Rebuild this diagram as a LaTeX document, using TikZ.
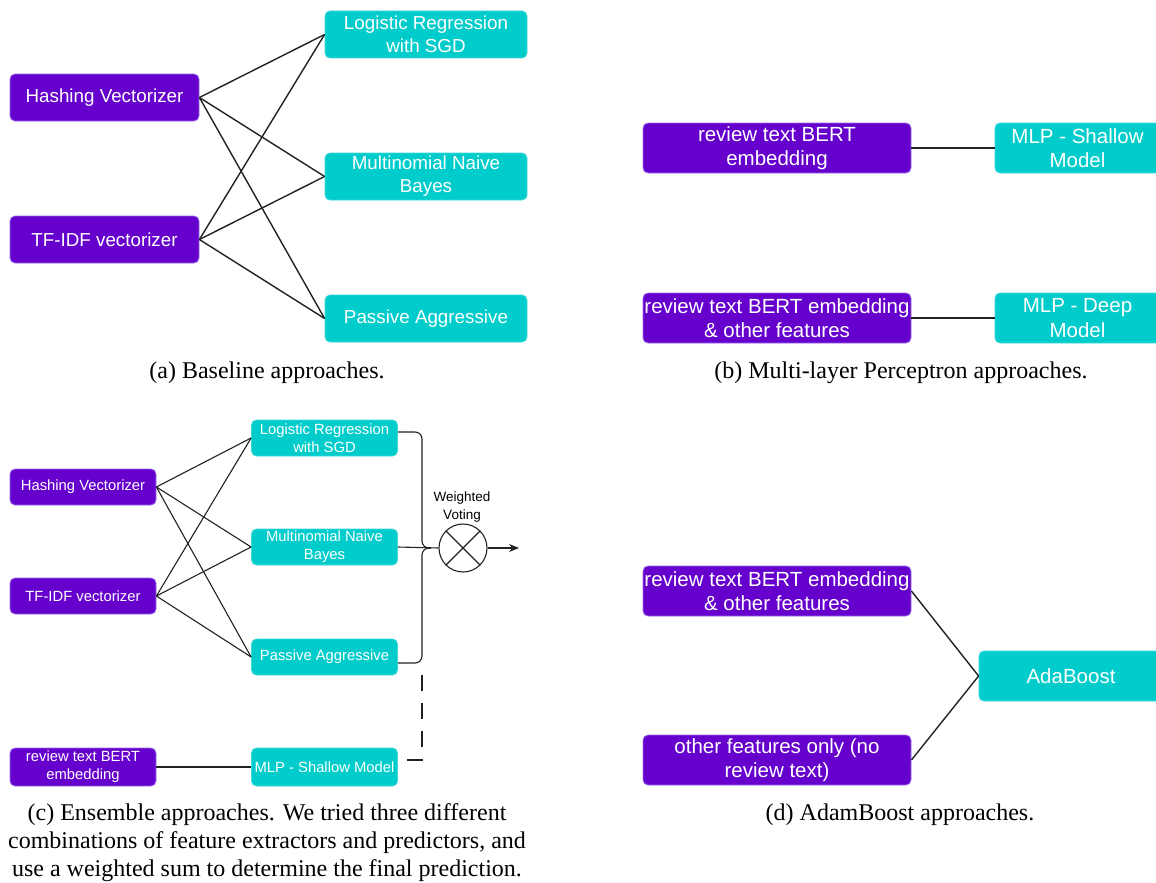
\documentclass[tikz,border=0pt]{standalone}
\usepackage{fontspec}
\setmainfont{Liberation Serif}
\newfontfamily\boxfont{Liberation Sans}
\usetikzlibrary{arrows.meta}
\definecolor{purp}{HTML}{6600CC}
\definecolor{purpedge}{HTML}{9A6AEE}
\definecolor{cyanfill}{HTML}{00CCCC}
\definecolor{cyanedge}{HTML}{3DD8D8}
\definecolor{lin}{HTML}{222222}
\begin{document}
\begin{tikzpicture}[x=1pt,y=-1pt,
  box/.style={rectangle, rounded corners=5pt, line width=0.8pt, text=white, align=center, inner sep=0pt, anchor=center},
  pbox/.style={box, fill=purp, draw=purpedge},
  cbox/.style={box, fill=cyanfill, draw=cyanedge},
  fa/.style={font=\boxfont\fontsize{18.8}{23}\selectfont},
  fb/.style={font=\boxfont\fontsize{20.5}{24.5}\selectfont},
  fc/.style={font=\boxfont\fontsize{14.8}{18}\selectfont},
  wa/.style={minimum width=189pt, minimum height=47pt},
  wa2/.style={minimum width=202pt, minimum height=47pt},
  wb/.style={minimum width=268pt, minimum height=50pt},
  wb2/.style={minimum width=165pt, minimum height=50pt},
  wc/.style={minimum width=146pt, minimum height=36pt},
  conn/.style={draw=lin, line width=1.4pt},
  connc/.style={draw=lin, line width=1.1pt},
  captxt/.style={font=\fontsize{24}{28}\selectfont, align=center, inner sep=0pt}
]
\clip (0,0) rectangle (1156,883);
\fill[white] (0,0) rectangle (1156,883);

% ---------------- (a) ----------------
\node[cbox,fa,wa2] (loga) at (426,34.5) {Logistic Regression\\with SGD};
\node[pbox,fa,wa]  (hasha) at (104.5,97.5) {Hashing Vectorizer};
\node[cbox,fa,wa2] (mnba) at (426,176.5) {Multinomial Naive\\Bayes};
\node[pbox,fa,wa]  (tfa) at (104.5,239.5) {TF-IDF vectorizer};
\node[cbox,fa,wa2] (paa) at (426,318.5) {Passive Aggressive};
\foreach \s in {hasha,tfa}{
  \foreach \t in {loga,mnba,paa}{
    \draw[conn] (\s.east) -- (\t.west);
  }
}
\node[captxt] (capa) at (267,373) {(a) Baseline approaches.};

% ---------------- (b) ----------------
\node[pbox,fb,wb]  (bert1) at (777,148) {review text BERT\\embedding};
\node[cbox,fb,wb2] (mlps) at (1077.5,148) {MLP - Shallow\\Model};
\node[pbox,fb,wb]  (bert2) at (777,318) {review text BERT embedding\\\& other features};
\node[cbox,fb,wb2] (mlpd) at (1077.5,318) {MLP - Deep\\Model};
\draw[conn] (bert1.east) -- (mlps.west);
\draw[conn] (bert2.east) -- (mlpd.west);
\node[captxt] (capb) at (901,373) {(b) Multi-layer Perceptron approaches.};

% ---------------- (c) ----------------
\node[cbox,fc,wc] (logc) at (324.5,438) {Logistic Regression\\with SGD};
\node[pbox,fc,wc] (hashc) at (83,487) {Hashing Vectorizer};
\node[cbox,fc,wc] (mnbc) at (324.5,547) {Multinomial Naive\\Bayes};
\node[pbox,fc,wc] (tfc) at (83,596) {TF-IDF vectorizer};
\node[cbox,fc,wc] (pac) at (324.5,657) {Passive Aggressive};
\node[pbox,fc,wc,minimum height=38pt] (bertc) at (83,767) {review text BERT\\embedding};
\node[cbox,fc,wc,minimum height=38pt] (mlpc) at (324.5,767) {MLP - Shallow Model};
\foreach \s in {hashc,tfc}{
  \foreach \t in {logc,mnbc,pac}{
    \draw[connc] (\s.east) -- (\t.west);
  }
}
\draw[connc] (bertc.east) -- (mlpc.west);

\node[circle, draw=lin, line width=1.1pt, minimum size=48pt, inner sep=0pt] (vote) at (463,548) {};
\draw[connc] (vote.north west) -- (vote.south east);
\draw[connc] (vote.north east) -- (vote.south west);
\node[font=\boxfont\fontsize{13.5}{18}\selectfont, align=center, inner sep=0pt] (wv) at (462,507) {Weighted\\Voting};

\coordinate (brmid) at (422,548);
\coordinate (brtip) at (431,548);
\draw[connc, rounded corners=7pt] ([yshift=6pt]logc.east) -- (422,432) -- (brmid) -- (brtip);
\draw[connc, rounded corners=7pt] (brtip) -- (brmid) -- (422,663) -- ([yshift=-6pt]pac.east);
\draw[connc] (mnbc.east) -- (vote.west);
\coordinate (vout) at (519,548);
\draw[connc, -{Stealth[length=10pt,width=8pt]}] (vote.east) -- (vout);

\coordinate (dk) at (422,760);
\coordinate (dtop) at (422,664);
\draw[connc, dash pattern=on 16pt off 12pt, dash phase=19pt] ([yshift=7pt]mlpc.east) -- (dk) -- (dtop);

\node[captxt] (capc) at (267,843) {(c) Ensemble approaches. We tried three different\\combinations of feature extractors and predictors, and\\use a weighted sum to determine the final prediction.};

% ---------------- (d) ----------------
\node[pbox,fb,wb] (bert3) at (777,591) {review text BERT embedding\\\& other features};
\node[cbox,fb,minimum width=184pt,minimum height=50pt] (ada) at (1071,676) {AdaBoost};
\node[pbox,fb,wb] (other) at (777,760) {other features only (no\\review text)};
\draw[conn] (bert3.east) -- (ada.west);
\draw[conn] (other.east) -- (ada.west);
\node[captxt] (capd) at (900,815) {(d) AdamBoost approaches.};
\end{tikzpicture}
\end{document}
